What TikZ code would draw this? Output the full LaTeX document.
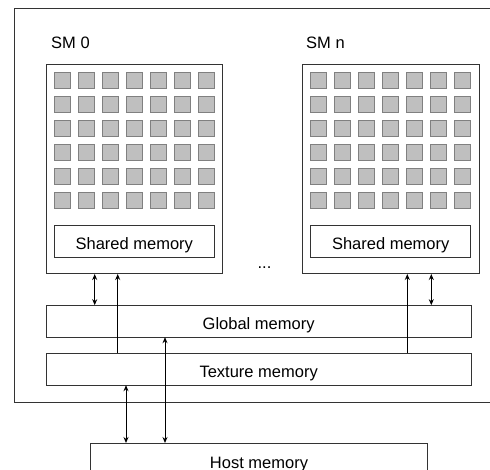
\documentclass[tikz,border=0pt]{standalone}
\usepackage{fontspec}
\setmainfont{Liberation Sans}
\usetikzlibrary{arrows.meta}
\begin{document}
\begin{tikzpicture}[x=1pt, y=-1pt, font=\fontsize{16.5}{20}\selectfont,
  box/.style={draw=black!80, line width=1pt, inner sep=0pt, outer sep=0pt, text height=16pt, text depth=0pt},
  core/.style={draw=black!50, fill=black!25, line width=1pt, minimum size=16pt, inner sep=0pt, outer sep=0pt},
  link/.style={line width=1pt, {Stealth[length=6pt,width=5pt]}-{Stealth[length=6pt,width=5pt]}},
  feed/.style={line width=1pt, -{Stealth[length=6pt,width=5pt]}}]
  \useasboundingbox (0,0) rectangle (490,470);
  \clip (0,0) rectangle (490,470);
  \node[box, minimum width=526pt, minimum height=393pt] (gpu) at (277,205.5) {};
  \node[box, minimum width=176.7pt, minimum height=209pt] (sm0) at (134.35,169.5) {};
  \node[box, minimum width=176.7pt, minimum height=209pt] (smn) at (391,169.5) {};
  \node[anchor=base west, inner sep=0pt] (sm0lbl) at (51,49) {SM 0};
  \node[anchor=base west, inner sep=0pt] (smnlbl) at (306,49) {SM n};
  \foreach \i in {0,...,6}
    \foreach \j in {0,...,5} {
      \node[core] (c0-\i-\j) at (62.3+24*\i, 80.7+24*\j) {};
      \node[core] (cn-\i-\j) at (318.7+24*\i, 80.7+24*\j) {};
    }
  \node[box, minimum width=160pt, minimum height=32pt] (sh0) at (134.3,241.2) {Shared memory};
  \node[box, minimum width=160pt, minimum height=32pt] (shn) at (390.7,241.2) {Shared memory};
  \node[inner sep=0pt] (dots) at (264.5,268) {...};
  \node[box, minimum width=425.3pt, minimum height=32pt] (gm) at (258.65,321.2) {Global memory};
  \node[box, minimum width=425.3pt, minimum height=32pt] (tm) at (258.65,369.2) {Texture memory};
  \node[box, minimum width=336.6pt, minimum height=34pt] (hm) at (259,460) {Host memory};
  \coordinate (x1) at (94.7,0);
  \coordinate (x2) at (117.7,0);
  \coordinate (x3) at (126,0);
  \coordinate (x4) at (165,0);
  \coordinate (x5) at (407.3,0);
  \coordinate (x6) at (431.3,0);
  \draw[link] (sm0.south -| x1) -- (gm.north -| x1);
  \draw[feed] (tm.north -| x2) -- (sm0.south -| x2);
  \draw[link] (hm.north -| x3) -- (tm.south -| x3);
  \draw[link] (hm.north -| x4) -- (gm.south -| x4);
  \draw[feed] (tm.north -| x5) -- (smn.south -| x5);
  \draw[link] (smn.south -| x6) -- (gm.north -| x6);
\end{tikzpicture}
\end{document}
